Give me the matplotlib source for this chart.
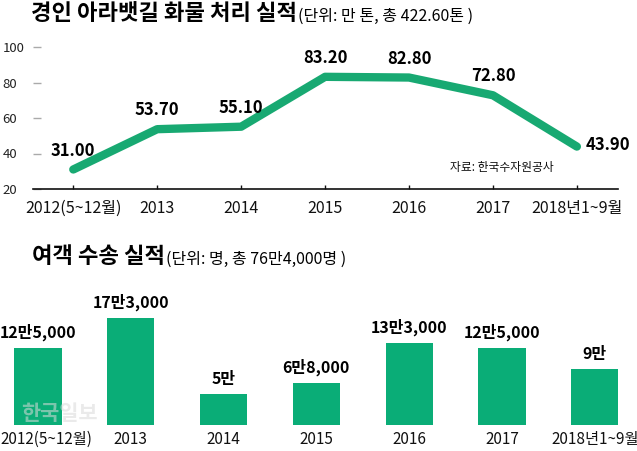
import matplotlib.pyplot as plt
import matplotlib.transforms as mtrans
import numpy as np

plt.rcParams['font.family'] = ['Noto Sans CJK KR', 'DejaVu Sans']

# 화물 처리 실적 (만 톤)
years = ['2012(5~12월)', '2013', '2014', '2015', '2016', '2017', '2018년1~9월']
cargo = [31.00, 53.70, 55.10, 83.20, 82.80, 72.80, 43.90]
cargo_labels = ['31.00', '53.70', '55.10', '83.20', '82.80', '72.80', '43.90']
cargo_yticks = [20, 40, 60, 80, 100]

# 여객 수송 실적 (명)
passengers = [125000, 173000, 50000, 68000, 133000, 125000, 90000]
passenger_labels = ['12만5,000', '17만3,000', '5만', '6만8,000', '13만3,000', '12만5,000', '9만']

line_color = '#18a972'
bar_color = '#0aad77'

W, H = 637, 451
fig = plt.figure(figsize=(W / 100, H / 100), dpi=100)

def px(x0, y0, x1, y1):
    # pixel box (top-left origin) -> figure fraction rect
    return [x0 / W, 1 - y1 / H, (x1 - x0) / W, (y1 - y0) / H]

# ---- line chart ----
ax1 = fig.add_axes(px(33, 47, 618, 189))
x = np.arange(len(years))
ax1.plot(x, cargo, color=line_color, lw=6, solid_capstyle='round', solid_joinstyle='round')
ax1.set_xlim(-0.48, 6.49)
ax1.set_ylim(20, 100)
ax1.set_facecolor('none')
for s in ['top', 'right', 'left']:
    ax1.spines[s].set_visible(False)
ax1.spines['bottom'].set_linewidth(1.2)
ax1.spines['bottom'].set_color('#111111')
ax1.set_yticks(cargo_yticks)
ax1.set_yticklabels([str(v) for v in cargo_yticks], ha='left', fontsize=9.5, color='#222222')
ax1.tick_params(axis='y', direction='in', length=6, width=1, color='#aaaaaa', pad=22)
ax1.set_xticks(x)
ax1.set_xticklabels(years, fontsize=11.5, color='#111111')
ax1.tick_params(axis='x', direction='in', length=3, width=1, color='#111111', pad=8)

for i, (v, lab) in enumerate(zip(cargo, cargo_labels)):
    if i == len(cargo) - 1:
        ax1.annotate(lab, (i, v), xytext=(6, 1), textcoords='offset points',
                     ha='left', va='center', fontsize=12, fontweight='bold')
    else:
        ax1.annotate(lab, (i, v), xytext=(0, 10), textcoords='offset points',
                     ha='center', va='baseline', fontsize=12, fontweight='bold')

ax1.text(450 / W, 1 - 168 / H, '자료: 한국수자원공사', transform=fig.transFigure,
         fontsize=8.5, va='center', ha='left', color='#111111')

# ---- bar chart ----
ax2 = fig.add_axes(px(0, 300, 637, 425))
xb = np.arange(len(passengers))
ax2.bar(xb, passengers, width=0.51, color=bar_color)
ax2.set_xlim(-0.41, 6.455)
ax2.set_ylim(0, 202000)
ax2.set_facecolor('none')
for s in ax2.spines.values():
    s.set_visible(False)
ax2.set_yticks([])
ax2.set_xticks(xb)
ax2.set_xticklabels(years, fontsize=11, color='#111111')
ax2.tick_params(axis='x', length=0, pad=4)
# first label sits against the left edge
first = ax2.get_xticklabels()[0]
first.set_transform(first.get_transform() + mtrans.ScaledTranslation(0.08, 0, fig.dpi_scale_trans))
for i, (v, lab) in enumerate(zip(passengers, passenger_labels)):
    ax2.annotate(lab, (i, v), xytext=(0, 5), textcoords='offset points',
                 ha='center', va='bottom', fontsize=11.5, fontweight='bold')

# watermark
fig.text(21 / W, 1 - 414 / H, '한국일보', fontsize=15, fontweight='bold',
         color='#d9d9d9', alpha=0.55, va='center', ha='left')

# ---- titles ----
t1 = fig.text(31 / W, 1 - 20 / H, '경인 아라뱃길 화물 처리 실적', fontsize=16,
              fontweight='bold', va='baseline', ha='left')
ax1.annotate('(단위: 만 톤, 총 422.60톤 )', xy=(1, 0), xycoords=t1, xytext=(1, 0),
             textcoords='offset points', fontsize=11.5, va='bottom', ha='left',
             annotation_clip=False)

t2 = fig.text(32 / W, 1 - 263 / H, '여객 수송 실적', fontsize=16,
              fontweight='bold', va='baseline', ha='left')
ax2.annotate('(단위: 명, 총 76만4,000명 )', xy=(1, 0), xycoords=t2, xytext=(1, 0),
             textcoords='offset points', fontsize=11.5, va='bottom', ha='left',
             annotation_clip=False)

fig.savefig('out.png', dpi=100)
